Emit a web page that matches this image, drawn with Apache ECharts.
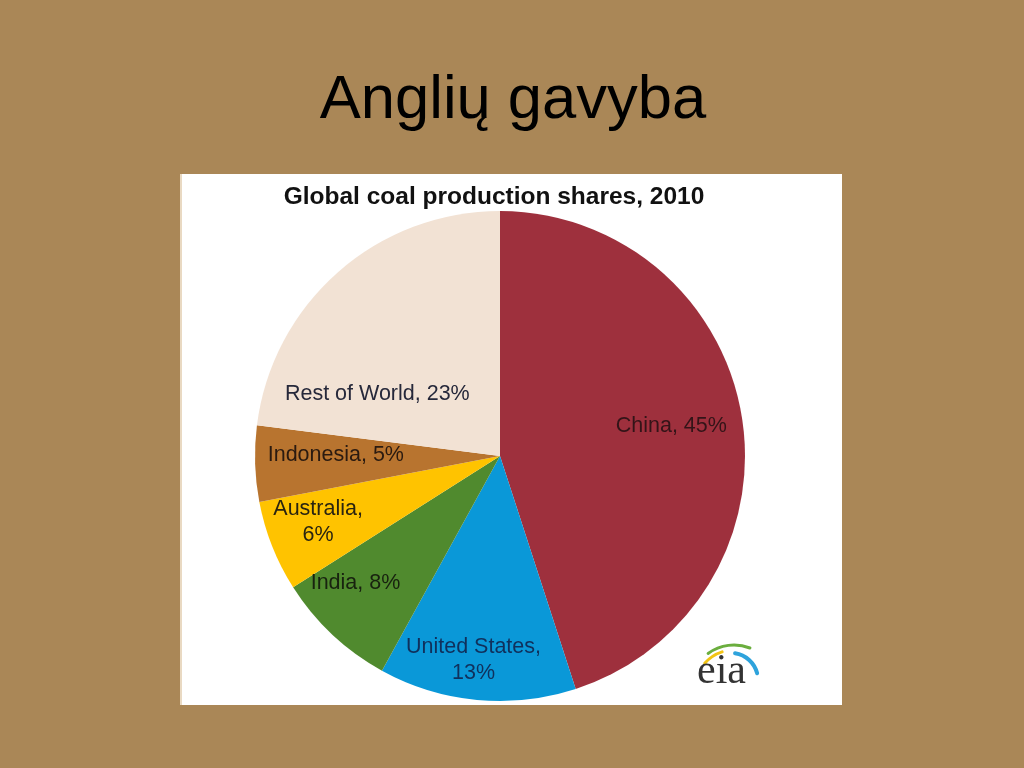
<!DOCTYPE html>
<html>
<head>
<meta charset="utf-8">
<script src="https://cdn.jsdelivr.net/npm/echarts@6/dist/echarts.min.js"></script>
<style>html,body{margin:0;padding:0;background:#AA8757;}#main{width:1024px;height:768px;}</style>
</head>
<body>
<div id="main"></div>
<script>
// ---- data ----
var categories = ['China', 'United States', 'India', 'Australia', 'Indonesia', 'Rest of World'];
var shares = [45, 13, 8, 6, 5, 23];
var pageTitle = 'Anglių gavyba';
var chartTitle = 'Global coal production shares, 2010';

// ---- styling ----
var colors = ['#9E303D', '#0A98D8', '#508A2E', '#FFC300', '#B8742F', '#F2E2D4'];
var labelColors = ['#331418', '#10305c', '#18220f', '#2a2410', '#2a1a10', '#26283a'];
var wrapLabel = [false, true, false, true, false, false];
// label placement: [angle offset from slice middle (deg), fraction of radius]
var labelPlace = [[-1, 0.71], [2, 0.84], [5.5, 0.785], [1.6, 0.79], [2.2, 0.67], [-22, 0.56]];

var CX = 500, CY = 456, R = 245;
var total = shares.reduce(function (a, b) { return a + b; }, 0);
var midAngles = [];
var acc = 0;
shares.forEach(function (v) { midAngles.push((acc + v / 2) / total * 360); acc += v; });

var data = categories.map(function (name, i) {
  return {
    name: name,
    value: shares[i],
    itemStyle: { color: colors[i] },
    label: {
      color: labelColors[i],
      formatter: wrapLabel[i] ? '{b},\n{c}%' : '{b}, {c}%'
    }
  };
});

var chart = echarts.init(document.getElementById('main'));
chart.setOption({
  backgroundColor: '#AA8757',
  animation: false,
  title: [{
    text: pageTitle,
    left: 508, top: 65, textAlign: 'center',
    textStyle: { fontFamily: 'Liberation Sans, Arial, sans-serif', fontSize: 61.5, fontWeight: 'normal', color: '#000' }
  }, {
    text: chartTitle,
    left: 489, top: 180, textAlign: 'center',
    textStyle: { fontFamily: "'Liberation Sans Narrow', 'Arial Narrow', 'Liberation Sans', sans-serif", fontSize: 24.5, fontWeight: 'bold', color: '#111' }
  }],
  graphic: [
    { type: 'rect', z: -10, shape: { x: 180, y: 174, width: 662, height: 531 }, style: { fill: '#ffffff' } },
    { type: 'rect', z: -9, shape: { x: 180, y: 174, width: 2, height: 531 }, style: { fill: '#E9D9C2' } },
    { type: 'arc', z: 10, shape: { cx: 734, cy: 689, r: 39, startAngle: -2.42, endAngle: -1.88 }, style: { stroke: '#F2C414', lineWidth: 3, fill: null, lineCap: 'round' } },
    { type: 'arc', z: 10, shape: { cx: 734, cy: 689, r: 44, startAngle: -2.2, endAngle: -1.2 }, style: { stroke: '#6BAE3E', lineWidth: 3, fill: null, lineCap: 'round' } },
    { type: 'arc', z: 10, shape: { cx: 731, cy: 680, r: 27, startAngle: -1.42, endAngle: -0.25 }, style: { stroke: '#2EA3DC', lineWidth: 4, fill: null, lineCap: 'round' } },
    { type: 'text', z: 10, style: { text: 'eia', x: 697, y: 651, fill: '#333', font: '42px "Liberation Serif", "DejaVu Serif", serif' } }
  ],
  series: [{
    type: 'pie',
    center: [CX, CY],
    radius: [0, R],
    startAngle: 90,
    clockwise: true,
    data: data,
    label: {
      show: true,
      position: 'inside',
      fontFamily: 'Liberation Sans, Arial, sans-serif',
      fontSize: 21.5,
      lineHeight: 26,
      align: 'center'
    },
    labelLine: { show: false },
    itemStyle: { borderWidth: 0 },
    emphasis: { disabled: true },
    labelLayout: function (p) {
      var i = p.dataIndex;
      var a = (midAngles[i] + labelPlace[i][0]) * Math.PI / 180;
      var d = labelPlace[i][1] * R;
      return { x: CX + d * Math.sin(a), y: CY - d * Math.cos(a), align: 'center', verticalAlign: 'middle' };
    }
  }]
});
</script>
</body>
</html>
